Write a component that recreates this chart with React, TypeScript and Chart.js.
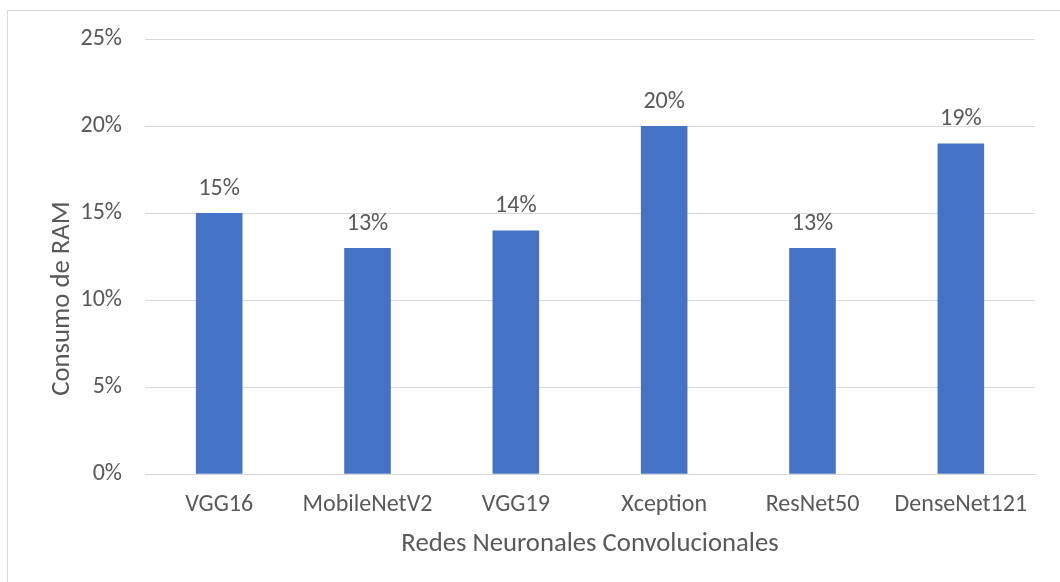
import React, { useEffect, useRef } from "react";
import { Chart, registerables } from "chart.js";

Chart.register(...registerables);

const categories = ["VGG16", "MobileNetV2", "VGG19", "Xception", "ResNet50", "DenseNet121"];
const ramValues = [15, 13, 14, 20, 13, 19];
const yTicks = [0, 5, 10, 15, 20, 25];
const xTitle = "Redes Neuronales Convolucionales";
const yTitle = "Consumo de RAM";

const FONT = "Calibri, Carlito, 'Open Sans', 'Noto Sans', sans-serif";
const TEXT = "#595959";

const labelPlugin = {
  id: "barLabels",
  afterDatasetsDraw(chart: any) {
    const ctx = chart.ctx;
    const meta = chart.getDatasetMeta(0);
    ctx.save();
    ctx.fillStyle = TEXT;
    ctx.font = `24px ${FONT}`;
    ctx.textAlign = "center";
    ctx.textBaseline = "alphabetic";
    meta.data.forEach((bar: any, i: number) => {
      ctx.fillText(`${ramValues[i]}%`, bar.x, bar.y - 18);
    });
    ctx.restore();
  },
};

const titlePlugin = {
  id: "axisTitles",
  afterDraw(chart: any) {
    const ctx = chart.ctx;
    const area = chart.chartArea;
    ctx.save();
    ctx.fillStyle = TEXT;
    ctx.font = `26.7px ${FONT}`;
    ctx.textAlign = "center";
    ctx.textBaseline = "middle";
    ctx.fillText(xTitle, (area.left + area.right) / 2, area.bottom + 70);
    ctx.translate(62, (area.top + area.bottom) / 2 + 42);
    ctx.rotate(-Math.PI / 2);
    ctx.fillText(yTitle, 0, 0);
    ctx.restore();
  },
};

export default function App() {
  const ref = useRef<HTMLCanvasElement>(null);
  useEffect(() => {
    if (!ref.current) return;
    const chart = new Chart(ref.current, {
      type: "bar",
      data: {
        labels: categories,
        datasets: [
          {
            data: ramValues,
            backgroundColor: "#4472C4",
            borderWidth: 0,
            barPercentage: 0.314,
            categoryPercentage: 1,
          },
        ],
      },
      options: {
        animation: false,
        responsive: true,
        maintainAspectRatio: false,
        layout: { padding: { top: 39, right: 25, left: 0, bottom: 47 } },
        plugins: { legend: { display: false }, tooltip: { enabled: false } },
        scales: {
          x: {
            grid: { display: false, drawTicks: false },
            border: { display: true, color: "#d9d9d9", width: 1 },
            ticks: { color: TEXT, font: { family: FONT, size: 24 }, padding: 16, maxRotation: 0, autoSkip: false },
          },
          y: {
            min: 0,
            max: 25,
            afterFit(scale: any) {
              scale.width = 145;
            },
            afterBuildTicks(scale: any) {
              scale.ticks = yTicks.map((v) => ({ value: v }));
            },
            grid: { color: "#d9d9d9", lineWidth: 1, drawTicks: false },
            border: { display: false },
            ticks: {
              color: TEXT,
              font: { family: FONT, size: 24 },
              padding: 23,
              callback: (v: any) => `${v}%`,
            },
          },
        },
      },
      plugins: [labelPlugin, titlePlugin],
    });
    return () => chart.destroy();
  }, []);

  return (
    <div style={{ position: "fixed", left: 0, top: 0, width: 1060, height: 582, background: "#fff", overflow: "hidden" }}>
      <div
        style={{
          position: "absolute",
          left: 7,
          top: 10,
          width: 1070,
          height: 600,
          border: "1px solid #d9d9d9",
          boxSizing: "border-box",
        }}
      />
      <div style={{ position: "absolute", left: 0, top: 0, width: 1060, height: 582 }}>
        <canvas ref={ref} />
      </div>
    </div>
  );
}
